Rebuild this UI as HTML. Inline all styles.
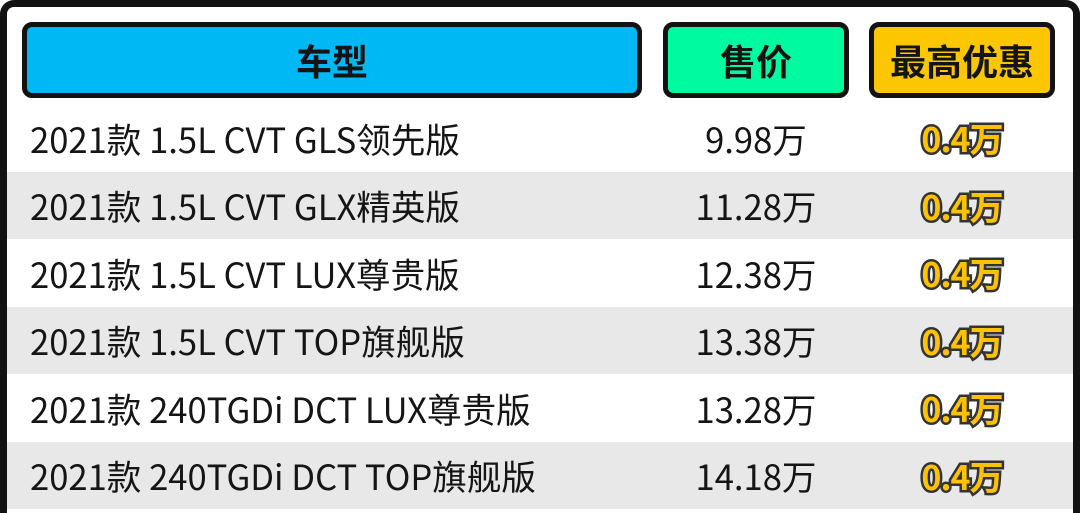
<!DOCTYPE html>
<html><head><meta charset="utf-8">
<style>
html,body{margin:0;padding:0;width:1080px;height:513px;overflow:hidden;}
body{background:#fff;position:relative;font-family:"Liberation Sans","Noto Sans CJK SC",sans-serif;}
.frame{position:absolute;left:0;top:0;width:1080px;height:513px;box-sizing:border-box;border:7px solid #121212;border-bottom:0;border-radius:14px 14px 0 0;background:#fff;}
.hdr{position:absolute;top:22px;height:76px;box-sizing:border-box;border:5px solid #121212;border-radius:10px;display:flex;align-items:center;justify-content:center;font-family:"Noto Sans CJK SC",sans-serif;font-weight:700;font-size:36px;color:#141414;}
.row{position:absolute;left:7px;width:1066px;height:67.5px;}
.g{background:#e8e8e8;}
.c{position:absolute;top:0;height:67.5px;display:flex;align-items:center;color:#151515;font-family:"Noto Sans CJK SC",sans-serif;white-space:nowrap;}
.name{left:23px;font-size:34.6px;}
.price{left:649px;width:200px;justify-content:center;font-size:34.6px;}
.disc{left:855px;width:200px;justify-content:center;font-size:34px;font-weight:700;color:#ffc200;-webkit-text-stroke:5px #333;paint-order:stroke fill;letter-spacing:-1px;}
</style></head><body>
<div class="frame"></div>
<div class="hdr" style="left:22px;width:620px;background:#00b9f4;">车型</div>
<div class="hdr" style="left:663px;width:186px;background:#00fa9f;">售价</div>
<div class="hdr" style="left:869px;width:186px;background:#fcc700;">最高优惠</div>

<div class="row" style="top:104px;">
 <div class="c name">2021款 1.5L CVT GLS领先版</div><div class="c price">9.98万</div><div class="c disc">0.4万</div>
</div>
<div class="row g" style="top:171.5px;">
 <div class="c name">2021款 1.5L CVT GLX精英版</div><div class="c price">11.28万</div><div class="c disc">0.4万</div>
</div>
<div class="row" style="top:239px;">
 <div class="c name">2021款 1.5L CVT LUX尊贵版</div><div class="c price">12.38万</div><div class="c disc">0.4万</div>
</div>
<div class="row g" style="top:306.5px;">
 <div class="c name">2021款 1.5L CVT TOP旗舰版</div><div class="c price">13.38万</div><div class="c disc">0.4万</div>
</div>
<div class="row" style="top:374px;">
 <div class="c name">2021款 240TGDi DCT LUX尊贵版</div><div class="c price">13.28万</div><div class="c disc">0.4万</div>
</div>
<div class="row g" style="top:441.5px;">
 <div class="c name">2021款 240TGDi DCT TOP旗舰版</div><div class="c price">14.18万</div><div class="c disc">0.4万</div>
</div>
</body></html>
